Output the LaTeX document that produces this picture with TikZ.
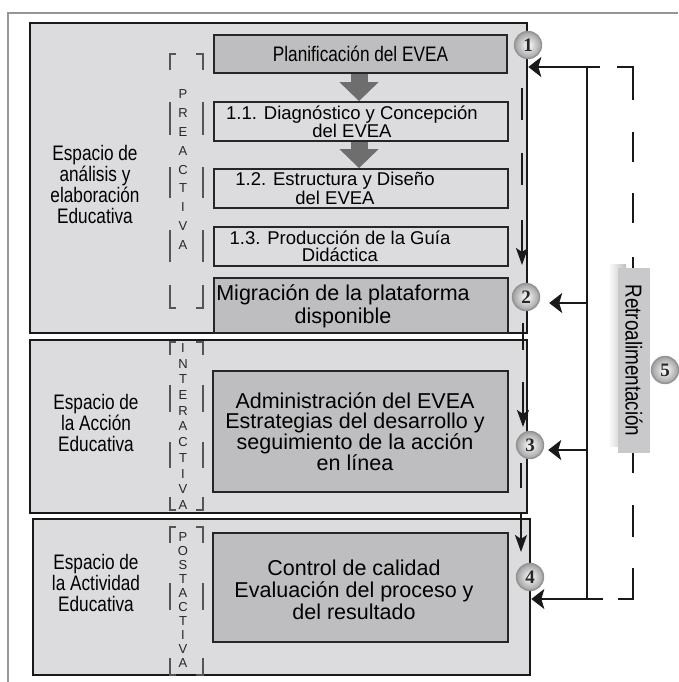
\documentclass[tikz,border=0pt]{standalone}
\usepackage{fontspec}
\setmainfont{Liberation Sans}
\newfontfamily\narrowfont[FakeStretch=0.82]{Liberation Sans}
\newfontfamily\numfont{Liberation Serif}
\usetikzlibrary{arrows.meta, positioning, calc, shapes}
\definecolor{bgbox}{RGB}{220,220,222}
\definecolor{darkbox}{RGB}{190,190,192}
\definecolor{fatarrow}{RGB}{110,110,110}
\definecolor{framegray}{RGB}{150,150,150}
\definecolor{brackgray}{RGB}{85,85,85}
\definecolor{retrogray}{RGB}{201,201,203}
\tikzset{
    espacio/.style={rectangle, draw=black!90, line width=2.6pt, fill=bgbox, inner sep=0pt},
    etapa/.style={rectangle, draw=black!85, line width=1.8pt, fill=#1, inner sep=0pt},
    etapa/.default=bgbox,
    texto/.style={align=center, inner sep=0pt, font=\fontsize{18.5}{17}\selectfont},
    textog/.style={align=center, inner sep=0pt, font=\fontsize{21.5}{#1}\selectfont},
    textog/.default=21.5,
    espaciotxt/.style={align=center, inner sep=0pt, font=\narrowfont\fontsize{21}{21}\selectfont},
    letra/.style={inner sep=0pt, text=black!85, font=\fontsize{13}{13}\selectfont},
    corchete/.style={draw=brackgray, line width=2pt},
    flujo/.style={draw=black!90, line width=2pt},
    fbline/.style={draw=black!90, line width=2pt},
    flecha/.style={-{Stealth[length=17pt, width=12pt, inset=4pt]}},
    flechafb/.style={-{Stealth[length=13pt, width=20pt, inset=3pt]}},
    gordo/.style={draw=fatarrow, line width=17pt, -{Triangle[length=19pt, width=38pt]}},
    numero/.style={circle, draw=gray!85, line width=1.4pt, inner color=white, outer color=gray!75,
        minimum size=27pt, inner sep=0pt, text=black!85, font=\numfont\bfseries\fontsize{19}{19}\selectfont}
}
\begin{document}
\begin{tikzpicture}[x=1pt, y=-1pt]
    \useasboundingbox (0,0) rectangle (678,682);
    \draw[framegray, line width=2pt] (8,682) -- (8,13) -- (678,13);

    % espacios
    \node[espacio, minimum width=497pt, minimum height=310pt] (esp1) at (278.5,178) {};
    \node[espacio, minimum width=497pt, minimum height=173pt] (esp2) at (278.5,426.5) {};
    \node[espacio, minimum width=497pt, minimum height=156pt] (esp3) at (281.5,597) {};

    \node[espaciotxt] (lab1) at (95,184) {Espacio de\\análisis y\\elaboración\\Educativa};
    \node[espaciotxt] (lab2) at (96,423) {Espacio de\\la Acción\\Educativa};
    \node[espaciotxt] (lab3) at (96,583) {Espacio de\\la Actividad\\Educativa};

    % etapas
    \node[etapa=darkbox, minimum width=293pt, minimum height=38pt,
        font=\narrowfont\fontsize{21}{21}\selectfont] (plan) at (360.5,54) {Planificación del EVEA};
    \node[etapa, minimum width=294pt, minimum height=39pt] (diag) at (361,121.5) {};
    \node[etapa, minimum width=294pt, minimum height=39pt] (estr) at (361,188.5) {};
    \node[etapa, minimum width=294pt, minimum height=39pt] (prod) at (361,246.5) {};
    \node[etapa=darkbox, minimum width=294pt, minimum height=55pt] (migr) at (361,305.5) {};
    \node[etapa=darkbox, minimum width=295pt, minimum height=121pt] (admin) at (360.5,431.5) {};
    \node[etapa=darkbox, minimum width=295pt, minimum height=109pt] (ctrl) at (360.5,587.5) {};

    \node[texto] (tdiag) at (352,122) {1.1. Diagnóstico y Concepción\\del EVEA};
    \node[texto] (testr) at (335,188.5) {1.2. Estructura y Diseño\\del EVEA};
    \node[texto] (tprod) at (340,246.5) {1.3. Producción de la Guía\\Didáctica};
    \node[textog=23] (tmigr) at (343,306) {Migración de la plataforma\\disponible};
    \node[textog=20] (tadmin) at (355,431.5) {Administración del EVEA\\Estrategias del desarrollo y\\seguimiento de la acción\\en línea};
    \node[textog=22] (tctrl) at (354,590) {Control de calidad\\Evaluación del proceso y\\del resultado};

    \draw[gordo] ([xshift=-1.5pt]plan.south) -- ([xshift=-2pt]diag.north);
    \draw[gordo] ([xshift=-2pt]diag.south) -- ([xshift=-2pt]estr.north);

    % corchetes
    \foreach \ya/\yb/\yc/\yd in {54/70/285/308, 342/355/497/510, 527/543/658/675} {
        \draw[corchete] (176,\ya) -- (169.5,\ya) -- (169.5,\yb);
        \draw[corchete] (196,\ya) -- (202.5,\ya) -- (202.5,\yb);
        \draw[corchete] (169.5,\yc) -- (169.5,\yd) -- (176,\yd);
        \draw[corchete] (202.5,\yc) -- (202.5,\yd) -- (196,\yd);
    }
    \foreach \ya/\yb in {102/135, 167/198, 230/262, 385/412, 442/468, 583/610}
        \draw[corchete] (169.5,\ya) -- (169.5,\yb) (202.5,\ya) -- (202.5,\yb);

    \foreach \l [count=\i from 0] in {P,R,E,A,C,T,I,V,A}
        \node[letra] (pre\i) at (183,94+18.9*\i) {\l};
    \foreach \l [count=\i from 0] in {I,N,T,E,R,A,C,T,I,V,A}
        \node[letra] (inter\i) at (183,348+15.7*\i) {\l};
    \foreach \l [count=\i from 0] in {P,O,S,T,A,C,T,I,V,A}
        \node[letra] (post\i) at (183,537+14*\i) {\l};

    % flujo
    \foreach \ya/\yb in {88/120, 153/185}
        \draw[flujo] (522,\ya) -- (522,\yb);
    \draw[flujo, flecha] (522,220) -- (522,265);
    \draw[flujo] (523,323) -- (523,350);
    \draw[flujo, flecha] (523,382) -- (523,427);
    \draw[flujo] (521,463) -- (521,488);
    \draw[flujo, flecha] (521,513) -- (521,552);

    % retroalimentacion
    \shade[left color=white, right color=gray!50] (608,264) rectangle (626,446);
    \node[rotate=-90, fill=retrogray, inner sep=0pt, minimum width=185pt, minimum height=32pt,
        font=\narrowfont\fontsize{23}{23}\selectfont] (retroal) at (634,360.5) {Retroalimentación};

    \coordinate (r1) at (587,67);
    \coordinate (r2) at (587,303);
    \coordinate (r3) at (587,450);
    \coordinate (r4) at (587,599);
    \draw[fbline] (r1) -- (r4);
    \draw[fbline] (r1) -- (600,67);
    \draw[fbline] (617,67) -- (633,67) -- (633,100);
    \foreach \ya/\yb in {132/162, 193/223}
        \draw[fbline] (633,\ya) -- (633,\yb);
    \draw[fbline] (633,257) -- (633,268);
    \draw[fbline] (633,453) -- (633,473);
    \draw[fbline] (633,505) -- (633,537);
    \draw[fbline] (633,568) -- (633,599) -- (618,599);
    \draw[fbline] (603,599) -- (r4);

    \node[numero] (n1) at (528,45) {1};
    \node[numero] (n2) at (526,297) {2};
    \node[numero] (n3) at (530,445) {3};
    \node[numero] (n4) at (530,577) {4};
    \node[numero] (n5) at (665,370) {5};

    \draw[fbline, flechafb] (r1) -- (r1 -| esp1.east);
    \draw[fbline, flechafb, shorten >=9pt] (r2) -- (r2 -| n2.east);
    \draw[fbline, flechafb, shorten >=4pt] (r3) -- (r3 -| n3.east);
    \draw[fbline, flechafb] (r4) -- (r4 -| esp3.east);
\end{tikzpicture}
\end{document}
